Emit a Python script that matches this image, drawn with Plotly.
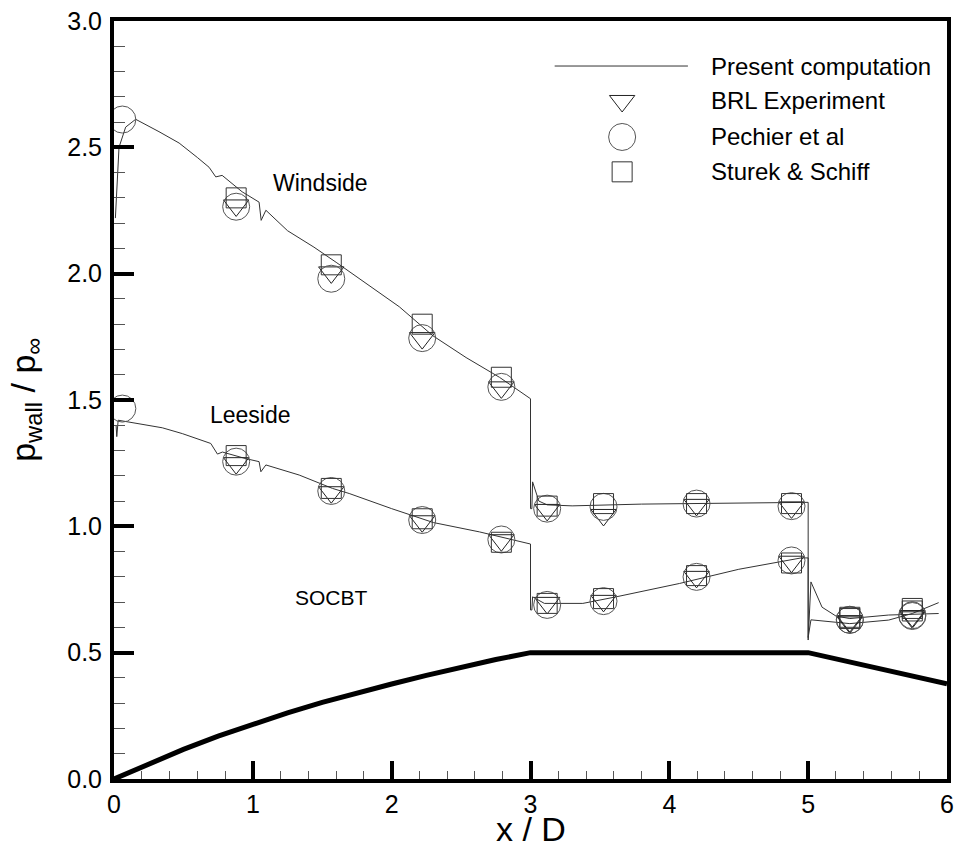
import plotly.graph_objects as go

# ---------------- data ----------------
# Present computation, windside
wind_x = [0.01, 0.025, 0.036, 0.084, 0.156, 0.324, 0.469, 0.60, 0.685, 0.733, 0.779, 0.923,
          1.045, 1.060, 1.094, 1.25, 1.44, 1.60, 1.815, 2.055, 2.295, 2.536, 2.776, 3.0,
          3.0, 3.01, 3.015, 3.06, 3.12, 3.3, 3.8, 4.3, 4.99, 5.0, 5.0, 5.02, 5.1, 5.2, 5.3,
          5.58, 5.94]
wind_y = [2.22, 2.40, 2.50, 2.58, 2.611, 2.562, 2.517, 2.46, 2.421, 2.383, 2.389, 2.324,
          2.283, 2.211, 2.251, 2.17, 2.105, 2.045, 1.961, 1.869, 1.755, 1.668, 1.59, 1.505,
          1.07, 1.07, 1.176, 1.10, 1.085, 1.081, 1.088, 1.09, 1.095, 1.095, 0.55, 0.78, 0.68,
          0.645, 0.635, 0.649, 0.655]

# Present computation, leeside
lee_x = [0.015, 0.02, 0.03, 0.156, 0.252, 0.348, 0.492, 0.697, 0.745, 0.781, 0.949, 1.045,
         1.058, 1.094, 1.334, 1.574, 1.694, 2.0, 2.3, 2.632, 3.0, 3.0, 3.01, 3.015, 3.1,
         3.377, 3.617, 4.074, 4.5, 4.95, 5.0, 5.0, 5.02, 5.3, 5.58, 5.75, 5.94]
lee_y = [1.40, 1.355, 1.42, 1.409, 1.401, 1.39, 1.367, 1.328, 1.286, 1.294, 1.268, 1.256,
         1.216, 1.243, 1.203, 1.15, 1.13, 1.07, 1.015, 0.978, 0.93, 0.669, 0.669, 0.721, 0.695,
         0.695, 0.721, 0.774, 0.83, 0.875, 0.875, 0.56, 0.63, 0.615, 0.629, 0.655, 0.698]

# SOCBT body profile
body_x = [0.0, 0.25, 0.5, 0.75, 1.0, 1.25, 1.5, 1.75, 2.0, 2.25, 2.5, 2.75, 3.0, 5.0, 6.0]
body_y = [0.0, 0.06, 0.117, 0.17, 0.218, 0.262, 0.303, 0.341, 0.376, 0.41, 0.443, 0.473,
          0.5, 0.5, 0.377]

# Experimental stations
exp_x = [0.88, 1.565, 2.22, 2.79, 3.12, 3.526, 4.196, 4.88, 5.30, 5.75]
pech_x = [0.06] + exp_x

brl_wind = [2.27, 2.005, 1.745, 1.55, 1.065, 1.045, 1.085, 1.075, 0.62, 0.645]
brl_lee = [1.25, 1.135, 1.02, 0.945, 0.697, 0.705, 0.80, 0.86, 0.625, 0.64]

pech_wind = [2.61, 2.265, 1.98, 1.745, 1.552, 1.07, 1.077, 1.09, 1.08, 0.63, 0.648]
pech_lee = [1.466, 1.256, 1.14, 1.025, 0.948, 0.689, 0.704, 0.80, 0.865, 0.63, 0.645]

stur_wind = [2.30, 2.035, 1.80, 1.59, 1.08, 1.09, 1.09, 1.09, 0.635, 0.675]
stur_lee = [1.28, 1.15, 1.03, 0.937, 0.695, 0.714, 0.805, 0.855, 0.64, 0.665]

legend_labels = ["Present computation", "BRL Experiment", "Pechier et al", "Sturek & Schiff"]

# ---------------- styles ----------------
FONT = "Liberation Sans, Arial, Helvetica, sans-serif"
LINE_C = "#333333"
TRI = dict(symbol="triangle-down-open", size=22, color="#222222", line=dict(width=1, color="#222222"))
CIR = dict(symbol="circle-open", size=27, color="#555555", line=dict(width=1, color="#555555"))
SQR = dict(symbol="square-open", size=20, color="#333333", line=dict(width=1, color="#333333"))

fig = go.Figure()

fig.add_trace(go.Scatter(x=body_x, y=body_y, mode="lines",
                         line=dict(color="black", width=5), showlegend=False))
fig.add_trace(go.Scatter(x=wind_x, y=wind_y, mode="lines",
                         line=dict(color=LINE_C, width=1), showlegend=False))
fig.add_trace(go.Scatter(x=lee_x, y=lee_y, mode="lines",
                         line=dict(color=LINE_C, width=1), showlegend=False))

for ys in (brl_wind, brl_lee):
    fig.add_trace(go.Scatter(x=exp_x, y=ys, mode="markers", marker=TRI, showlegend=False))
for ys in (pech_wind, pech_lee):
    fig.add_trace(go.Scatter(x=pech_x, y=ys, mode="markers", marker=CIR, showlegend=False))
for ys in (stur_wind, stur_lee):
    fig.add_trace(go.Scatter(x=exp_x, y=ys, mode="markers", marker=SQR, showlegend=False))

# ---------------- manual legend (overlay axes in [0,1]) ----------------
leg_sym_x = 0.61
leg_rows = [0.9406, 0.8945, 0.847, 0.801]
for mk, yy in zip((TRI, CIR, SQR), leg_rows[1:]):
    fig.add_trace(go.Scatter(x=[leg_sym_x], y=[yy], mode="markers", marker=mk,
                             xaxis="x2", yaxis="y2", showlegend=False, hoverinfo="skip"))

shapes = [dict(type="line", xref="paper", yref="paper", x0=0.529, x1=0.689,
               y0=leg_rows[0], y1=leg_rows[0], line=dict(color=LINE_C, width=1))]

annotations = []
for lab, yy in zip(legend_labels, leg_rows):
    annotations.append(dict(text=lab, xref="paper", yref="paper", x=0.714, y=yy,
                            xanchor="left", yanchor="middle", showarrow=False,
                            font=dict(family=FONT, size=24, color="black")))

for txt, xx, yy, fs in (("Windside", 1.49, 2.36, 23), ("Leeside", 0.98, 1.44, 23),
                        ("SOCBT", 1.57, 0.72, 21)):
    annotations.append(dict(text=txt, x=xx, y=yy, xref="x", yref="y", showarrow=False,
                            font=dict(family=FONT, size=fs, color="black")))

annotations.append(dict(text="x / D", xref="paper", yref="paper", x=0.5, y=-0.066,
                        xanchor="center", yanchor="middle", showarrow=False,
                        font=dict(family=FONT, size=34, color="black")))
annotations.append(dict(text="p<sub>wall</sub> / p<sub>∞</sub>", xref="paper", yref="paper",
                        x=-0.107, y=0.5, xanchor="center", yanchor="middle",
                        textangle=-90, showarrow=False,
                        font=dict(family=FONT, size=34, color="black")))

axis_common = dict(showgrid=False, zeroline=False, showline=True, linewidth=4,
                   linecolor="black", mirror=True, ticks="inside", tickwidth=4,
                   tickcolor="black", automargin=False,
                   tickfont=dict(family=FONT, size=25, color="black"))

fig.update_layout(
    width=957, height=849,
    margin=dict(l=114, r=10, t=21, b=70),
    paper_bgcolor="white", plot_bgcolor="white",
    showlegend=False,
    xaxis=dict(range=[0, 6], dtick=1, tick0=0, ticklen=18,
               minor=dict(dtick=0.2, ticks="inside", ticklen=8, tickwidth=1, tickcolor="#555555"),
               **axis_common),
    yaxis=dict(range=[0, 3], dtick=0.5, tick0=0, ticklen=20, tickformat=".1f",
               ticklabelstandoff=3,
               minor=dict(dtick=0.1, ticks="inside", ticklen=11, tickwidth=1, tickcolor="#555555"),
               **axis_common),
    xaxis2=dict(range=[0, 1], overlaying="x", visible=False, fixedrange=True),
    yaxis2=dict(range=[0, 1], overlaying="y", visible=False, fixedrange=True),
    shapes=shapes,
    annotations=annotations,
)

fig.write_html("out.html", config={"displayModeBar": False},
               post_script="document.body.style.margin='0';document.body.style.overflow='hidden';")
